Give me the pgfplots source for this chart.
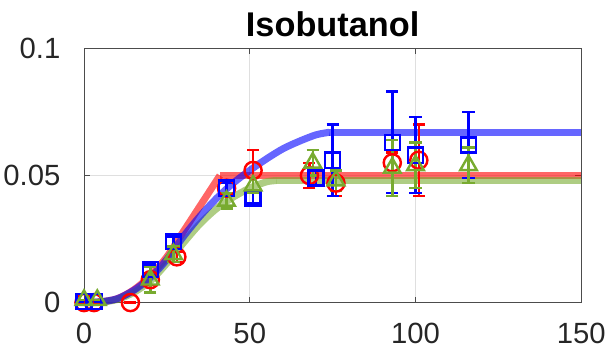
\documentclass[border=0pt]{standalone}
\usepackage{pgfplots}
\pgfplotsset{compat=1.18}
\usepackage{fontspec}
\setmainfont{Liberation Sans}
\definecolor{mred}{rgb}{1,0,0}
\definecolor{mblue}{rgb}{0,0,1}
\definecolor{mgreen}{rgb}{0.47,0.67,0.19}
\begin{document}
\begin{tikzpicture}
\begin{axis}[
  scale only axis, width=493pt, height=252pt,
  xmin=0, xmax=150, ymin=0, ymax=0.1,
  xtick={0,50,100,150}, ytick={0,0.05,0.1},
  yticklabels={0,0.05,0.1},
  tick align=inside, major tick length=6pt,
  grid=major, major grid style={gray!25, line width=0.8pt},
  axis line style={black!70, line width=1pt},
  tick style={black!70, line width=0.8pt},
  /pgf/number format/assume math mode=true,
  ticklabel style={font=\fontsize{29}{34}\selectfont, text=black!85},
  xticklabel style={yshift=-17pt},
  yticklabel style={xshift=-20pt},
  title={\bfseries Isobutanol},
  title style={font=\fontsize{34}{40}\selectfont, yshift=2pt},
  clip=false,
]
% fitted curves
\addplot[mred, opacity=0.6, line width=7pt, smooth] coordinates {
 (0,0) (5,0.0003) (10,0.0015) (15,0.005) (20,0.0105) (25,0.018) (30,0.028) (35,0.038) (38,0.044) (41,0.05)};
\addplot[mred, opacity=0.6, line width=7pt] coordinates {(41,0.05) (150,0.05)};
\addplot[mgreen, opacity=0.6, line width=7pt, smooth] coordinates {
 (0,0) (5,0.0002) (10,0.0012) (15,0.004) (20,0.0085) (25,0.0155) (30,0.0235) (35,0.031) (40,0.037) (45,0.0415) (50,0.045) (55,0.0475) (58,0.048)};
\addplot[mgreen, opacity=0.6, line width=7pt] coordinates {(58,0.048) (150,0.048)};
\addplot[mblue, opacity=0.6, line width=7pt, smooth] coordinates {
 (0,0) (5,0.0003) (10,0.0015) (15,0.0048) (20,0.0098) (25,0.017) (30,0.026) (35,0.034) (40,0.041) (45,0.047) (50,0.052) (55,0.0565) (60,0.0605) (65,0.0635) (70,0.066) (74,0.067)};
\addplot[mblue, opacity=0.6, line width=7pt] coordinates {(74,0.067) (150,0.067)};
% data
\addplot[mred, only marks, mark=o, mark size=8.5pt, line width=2.4pt,
  error bars/.cd, y dir=both, y explicit, error bar style={line width=2.4pt}, error mark options={rotate=90, mark size=6pt, line width=2.4pt}]
 coordinates {
 (0,0) +- (0,0) (3,0) +- (0,0) (14,0) +- (0,0) (20,0.009) +- (0,0.002) (28,0.018) +- (0,0.002)
 (43,0.045) +- (0,0.003) (51,0.052) +- (0,0.008) (68,0.050) +- (0,0.005) (76,0.047) +- (0,0.005)
 (93,0.055) +- (0,0.004) (101,0.056) +- (0,0.014)};
\addplot[mblue, only marks, mark=square, mark size=7.5pt, line width=2.4pt,
  error bars/.cd, y dir=both, y explicit, error bar style={line width=2.4pt}, error mark options={rotate=90, mark size=6pt, line width=2.4pt}]
 coordinates {
 (0,0.0005) +- (0,0) (3,0.0005) +- (0,0) (20,0.013) +- (0,0.002) (27,0.024) +- (0,0.002)
 (43,0.045) +- (0,0.002) (51,0.041) +- (0,0.002) (70,0.049) +- (0,0.003) (75,0.056) +- (0,0.014)
 (93,0.063) +- (0,0.020) (100,0.058) +- (0,0.015) (116,0.062) +- (0,0.013)};
\addplot[mgreen, only marks, mark=triangle, mark size=9.5pt, line width=2.4pt,
  error bars/.cd, y dir=both, y explicit, error bar style={line width=2.4pt}, error mark options={rotate=90, mark size=6pt, line width=2.4pt}]
 coordinates {
 (0,0.001) +- (0,0) (4,0.001) +- (0,0) (20,0.009) +- (0,0.005) (27,0.019) +- (0,0.003)
 (43,0.040) +- (0,0.003) (51,0.046) +- (0,0.003) (69,0.055) +- (0,0.005) (76,0.048) +- (0,0.004)
 (93,0.053) +- (0,0.011) (100,0.054) +- (0,0.009) (116,0.054) +- (0,0.007)};
\end{axis}
\node[inner sep=0pt, minimum size=0pt] at ([yshift=-51pt]current axis.south west) {};
\node[inner sep=0pt, minimum size=0pt] at ([yshift=48pt]current axis.north west) {};
\end{tikzpicture}
\end{document}
